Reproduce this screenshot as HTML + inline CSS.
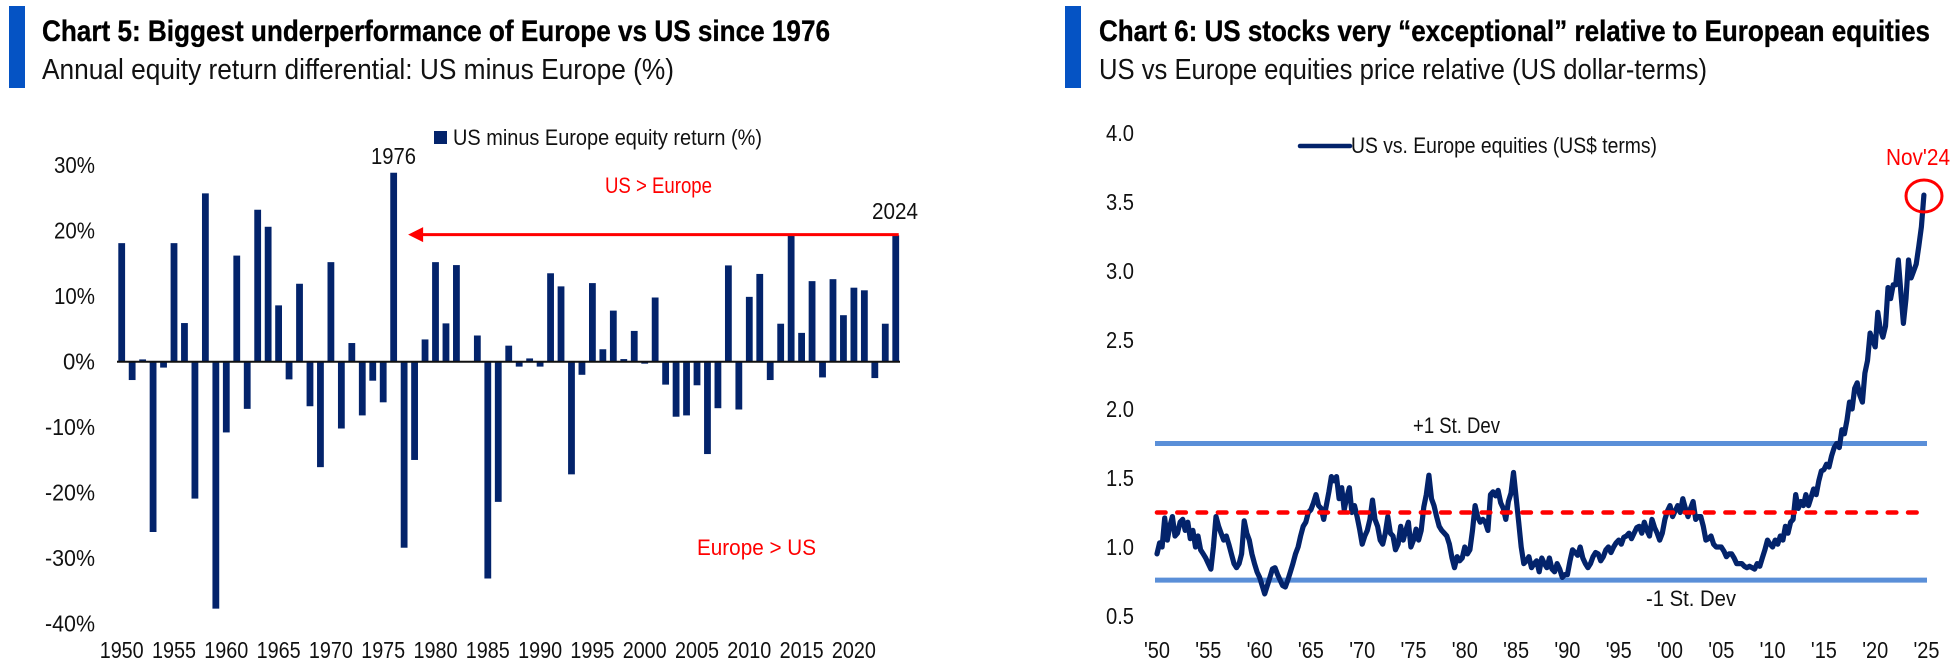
<!DOCTYPE html>
<html lang="en">
<head>
<meta charset="utf-8">
<title>Chart 5 and Chart 6</title>
<style>
html,body{margin:0;padding:0;background:#fff;width:1956px;height:668px;overflow:hidden}
svg{display:block;font-family:"Liberation Sans",sans-serif}
</style>
</head>
<body>
<svg id="root" width="1956" height="668" viewBox="0 0 1956 668" xmlns="http://www.w3.org/2000/svg">
  <rect x="9" y="6" width="16" height="82" fill="#0553c4"/>
  <text x="42" y="41" font-size="30" font-weight="700" fill="#000" stroke="#000" stroke-width="0.35" textLength="788" lengthAdjust="spacingAndGlyphs">Chart 5: Biggest underperformance of Europe vs US since 1976</text>
  <text x="42" y="79" font-size="29" fill="#111" textLength="632" lengthAdjust="spacingAndGlyphs">Annual equity return differential: US minus Europe (%)</text>

  <rect x="1065" y="6" width="16" height="82" fill="#0553c4"/>
  <text x="1099" y="41" font-size="30" font-weight="700" fill="#000" stroke="#000" stroke-width="0.35" textLength="831" lengthAdjust="spacingAndGlyphs">Chart 6: US stocks very “exceptional” relative to European equities</text>
  <text x="1099" y="79" font-size="29" fill="#111" textLength="608" lengthAdjust="spacingAndGlyphs">US vs Europe equities price relative (US dollar-terms)</text>

  <g id="chart5"></g>
  <g id="chart6"></g>

  <rect x="434" y="131" width="13" height="13" fill="#03236b"/>
  <text x="453" y="145" font-size="22" fill="#111" textLength="309" lengthAdjust="spacingAndGlyphs">US minus Europe equity return (%)</text>
  <text x="371" y="164" font-size="23" fill="#111" textLength="45" lengthAdjust="spacingAndGlyphs">1976</text>
  <text x="872" y="219" font-size="23" fill="#111" textLength="46" lengthAdjust="spacingAndGlyphs">2024</text>
  <text x="605" y="193" font-size="22" fill="#f00" textLength="107" lengthAdjust="spacingAndGlyphs">US &gt; Europe</text>
  <text x="697" y="555" font-size="22" fill="#f00" textLength="119" lengthAdjust="spacingAndGlyphs">Europe &gt; US</text>

  <line x1="1300" y1="146" x2="1350" y2="146" stroke="#03236b" stroke-width="4.5" stroke-linecap="round"/>
  <text x="1351" y="153" font-size="22" fill="#111" textLength="306" lengthAdjust="spacingAndGlyphs">US vs. Europe equities (US$ terms)</text>
  <text x="1413" y="433" font-size="22" fill="#111" textLength="87" lengthAdjust="spacingAndGlyphs">+1 St. Dev</text>
  <text x="1646" y="606" font-size="22" fill="#111" textLength="90" lengthAdjust="spacingAndGlyphs">-1 St. Dev</text>
  <text x="1886" y="165" font-size="23" fill="#f00" textLength="64" lengthAdjust="spacingAndGlyphs">Nov'24</text>
  <ellipse cx="1924" cy="196" rx="18" ry="16" fill="none" stroke="#f00" stroke-width="3"/>
</svg>
<script>
// Chart 5 data
var barYears = [1950,1951,1952,1953,1954,1955,1956,1957,1958,1959,1960,1961,1962,1963,1964,1965,1966,1967,1968,1969,1970,1971,1972,1973,1974,1975,1976,1977,1978,1979,1980,1981,1982,1983,1984,1985,1986,1987,1988,1989,1990,1991,1992,1993,1994,1995,1996,1997,1998,1999,2000,2001,2002,2003,2004,2005,2006,2007,2008,2009,2010,2011,2012,2013,2014,2015,2016,2017,2018,2019,2020,2021,2022,2023,2024];
var barValues = [18.1,-2.8,0.35,-26,-0.9,18.1,5.9,-20.9,25.7,-37.7,-10.8,16.2,-7.2,23.2,20.6,8.6,-2.7,11.9,-6.8,-16.1,15.2,-10.2,2.85,-8.2,-2.9,-6.2,28.85,-28.4,-15,3.4,15.2,5.85,14.75,-0.1,4,-33.1,-21.4,2.45,-0.75,0.5,-0.75,13.5,11.5,-17.2,-2,12,1.9,7.8,0.4,4.7,-0.3,9.8,-3.5,-8.4,-8.2,-3.6,-14.1,-7.1,14.7,-7.3,9.9,13.4,-2.8,5.8,19.3,4.4,12.3,-2.4,12.6,7.1,11.3,10.9,-2.5,5.8,19.3];
var barYTicks = [30,20,10,0,-10,-20,-30,-40];
var barXTicks = [1950,1955,1960,1965,1970,1975,1980,1985,1990,1995,2000,2005,2010,2015,2020];
var arrowValue = 19.4;
var arrowFromYear = 2024;
var arrowToYear = 1977;

// Chart 6 data: quarterly readings starting in 1950
var lineStartYear = 1950;
var lineStepYears = 0.25;
var lineValues = [
0.95,1.03,1.0,1.21, 1.05,1.15,1.22,1.08, 1.1,1.18,1.2,1.12, 1.18,1.06,1.12,1.0, 1.08,0.98,0.95,0.92,
0.88,0.84,1.0,1.22, 1.15,1.1,1.05,1.08, 1.02,0.95,0.88,0.85, 0.88,0.95,1.19,1.1, 1.05,0.95,0.88,0.82,
0.78,0.72,0.66,0.72, 0.78,0.84,0.85,0.8, 0.76,0.72,0.71,0.76, 0.82,0.88,0.95,1.0, 1.08,1.15,1.18,1.25,
1.27,1.32,1.38,1.3, 1.28,1.2,1.3,1.4, 1.51,1.48,1.51,1.35, 1.43,1.27,1.36,1.43, 1.25,1.3,1.22,1.13,
1.02,1.08,1.12,1.2, 1.34,1.2,1.15,1.05, 1.02,1.1,1.22,1.1, 1.08,0.98,1.02,1.15, 1.05,1.12,1.18,1.0,
1.05,1.13,1.05,1.12, 1.29,1.38,1.52,1.35, 1.3,1.22,1.15,1.12, 1.1,1.08,1.02,0.92, 0.85,0.93,0.9,0.92,
1.0,0.95,0.98,1.12, 1.3,1.22,1.18,1.2, 1.18,1.12,1.38,1.4, 1.37,1.41,1.32,1.28, 1.2,1.33,1.39,1.54,
1.36,1.18,1.0,0.88, 0.9,0.93,0.85,0.88, 0.9,0.82,0.92,0.88, 0.85,0.92,0.84,0.82, 0.88,0.84,0.78,0.8,
0.8,0.9,0.98,0.96, 0.94,1.0,0.92,0.88, 0.85,0.88,0.93,0.96, 0.95,0.9,0.93,0.98, 1.0,0.96,1.0,1.03,
1.05,1.02,1.07,1.08, 1.1,1.06,1.1,1.14, 1.15,1.1,1.18,1.12, 1.08,1.2,1.14,1.1, 1.05,1.1,1.2,1.26,
1.3,1.22,1.26,1.3, 1.25,1.35,1.28,1.22, 1.28,1.33,1.2,1.22, 1.22,1.15,1.05,1.06, 1.08,1.02,1.0,1.0,
1.0,0.97,0.93,0.95, 0.95,0.92,0.88,0.88, 0.88,0.86,0.85,0.86, 0.85,0.84,0.88,0.86, 0.92,0.98,1.05,1.02,
1.0,1.05,1.02,1.08, 1.05,1.15,1.1,1.18, 1.2,1.38,1.28,1.33, 1.3,1.38,1.3,1.36, 1.42,1.38,1.48,1.55,
1.56,1.6,1.58,1.66, 1.72,1.75,1.72,1.85, 1.82,1.92,2.05,2.0, 2.15,2.19,2.1,2.05, 2.26,2.35,2.55,2.5,
2.45,2.7,2.58,2.52, 2.6,2.88,2.8,2.9, 2.9,3.08,2.85,2.62, 2.8,3.08,2.95,3.0, 3.05,3.18,3.32,3.55
];
var lineYTicks = [4,3.5,3,2.5,2,1.5,1,0.5];
var lineXTicks = [1950,1955,1960,1965,1970,1975,1980,1985,1990,1995,2000,2005,2010,2015,2020,2025];
var upperBand = 1.75;
var meanLevel = 1.25;
var lowerBand = 0.76;

var NS = 'http://www.w3.org/2000/svg';
var chart5 = document.getElementById('chart5');
var chart6 = document.getElementById('chart6');

function make(parent, tag, attrs) {
  var el = document.createElementNS(NS, tag);
  for (var k in attrs) { el.setAttribute(k, attrs[k]); }
  parent.appendChild(el);
  return el;
}
function barX(year) { return 121.7 + (year - 1950) * 10.46; }
function barY(value) { return 361.7 - value * 6.55; }
function lineX(year) { return 1157 + (year - 1950) * 10.26; }
function lineY(value) { return 409 + (2 - value) * 138; }

// Chart 5 bars
barValues.forEach(function (v, i) {
  var y0 = barY(0), y1 = barY(v);
  var r = make(chart5, 'rect', {x: barX(barYears[i]) - 3.4, y: Math.min(y0, y1), width: 6.8, height: Math.abs(y1 - y0), fill: '#03236b'});
  
  
});
var zeroAxis = make(chart5, 'line', {x1: 117, x2: 900, y1: barY(0), y2: barY(0), stroke: '#111', 'stroke-width': 2});



barYTicks.forEach(function (t) {
  var el = make(chart5, 'text', {x: 95, y: barY(t) + 8, 'text-anchor': 'end', 'font-size': 23, fill: '#111'});
  el.textContent = t + '%';
  el.setAttribute('textLength', t < 0 ? 50 : (t === 0 ? 32 : 41));
  el.setAttribute('lengthAdjust', 'spacingAndGlyphs');
  
  
});
barXTicks.forEach(function (t) {
  var el = make(chart5, 'text', {x: barX(t) - 22, y: 658, 'font-size': 23, fill: '#111'});
  el.textContent = String(t);
  el.setAttribute('textLength', 44);
  el.setAttribute('lengthAdjust', 'spacingAndGlyphs');
  
  
});

var arrowShaft = make(chart5, 'line', {x1: barX(arrowFromYear) + 3, x2: barX(arrowToYear) + 14, y1: barY(arrowValue), y2: barY(arrowValue), stroke: '#f00', 'stroke-width': 3});


var tipX = barX(arrowToYear) + 4, tipY = barY(arrowValue);
var arrowHead = make(chart5, 'polygon', {points: tipX + ',' + tipY + ' ' + (tipX + 15) + ',' + (tipY - 7.5) + ' ' + (tipX + 15) + ',' + (tipY + 7.5), fill: '#f00'});



// Chart 6 lines
var upper = make(chart6, 'line', {x1: 1155, x2: 1927, y1: lineY(upperBand), y2: lineY(upperBand), stroke: '#5a8fd8', 'stroke-width': 5});


var lower = make(chart6, 'line', {x1: 1155, x2: 1927, y1: lineY(lowerBand), y2: lineY(lowerBand), stroke: '#5a8fd8', 'stroke-width': 5});



var pts = lineValues.map(function (v, i) { return lineX(lineStartYear + i * lineStepYears).toFixed(1) + ',' + lineY(v).toFixed(1); }).join(' ');
var series = make(chart6, 'polyline', {points: pts, fill: 'none', stroke: '#03236b', 'stroke-width': 5.2, 'stroke-linejoin': 'round', 'stroke-linecap': 'round'});



var mean = make(chart6, 'line', {x1: 1157, x2: 1927, y1: lineY(meanLevel), y2: lineY(meanLevel), stroke: '#f00', 'stroke-width': 4.6, 'stroke-linecap': 'round', 'stroke-dasharray': '8.5 11.8'});



lineYTicks.forEach(function (t) {
  var el = make(chart6, 'text', {x: 1106, y: lineY(t) + 8, 'font-size': 23, fill: '#111'});
  el.textContent = t.toFixed(1);
  el.setAttribute('textLength', 28);
  el.setAttribute('lengthAdjust', 'spacingAndGlyphs');
  
  
});
lineXTicks.forEach(function (t) {
  var el = make(chart6, 'text', {x: lineX(t) - 13, y: 658, 'font-size': 23, fill: '#111'});
  el.textContent = "'" + String(t).slice(2);
  el.setAttribute('textLength', 26);
  el.setAttribute('lengthAdjust', 'spacingAndGlyphs');
  
  
});
</script>
</body>
</html>
